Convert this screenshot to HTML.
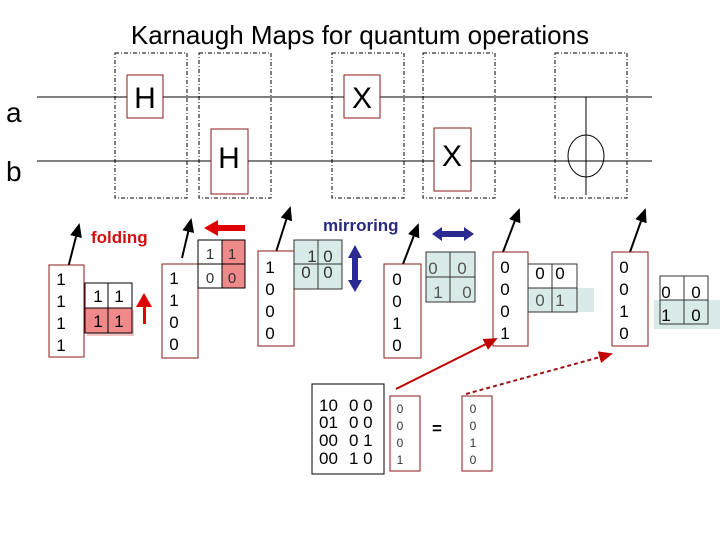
<!DOCTYPE html>
<html><head><style>
body{margin:0;width:720px;height:540px;background:#fff;overflow:hidden}
svg{font-family:"Liberation Sans",sans-serif}
</style></head><body>
<svg width="720" height="540" viewBox="0 0 720 540">
<defs>
<marker id="ab" markerWidth="8" markerHeight="8" refX="6" refY="4" orient="auto"><path d="M0,1 L7,4 L0,7z" fill="#000"/></marker>
<marker id="ar" markerWidth="8" markerHeight="8" refX="6" refY="4" orient="auto"><path d="M0,1 L7,4 L0,7z" fill="#c00000"/></marker>
</defs>
<text x="360" y="44" font-size="26" text-anchor="middle">Karnaugh Maps for quantum operations</text>
<text x="6" y="122" font-size="28">a</text>
<text x="6" y="181" font-size="28">b</text>
<g fill="none" stroke="#000" stroke-dasharray="4,2,1,2" stroke-width="1">
<rect x="115" y="53" width="72" height="145"/><rect x="199" y="53" width="72" height="145"/>
<rect x="332" y="53" width="72" height="145"/><rect x="423" y="53" width="72" height="145"/>
<rect x="555" y="53" width="72" height="145"/></g>
<line x1="37" y1="97" x2="652" y2="97" stroke="#000"/>
<line x1="37" y1="161" x2="652" y2="161" stroke="#000"/>
<g fill="#fff" stroke="#8b1a1a"><rect x="127" y="75" width="36" height="43"/><rect x="211" y="129" width="37" height="65"/>
<rect x="344" y="75" width="36" height="43"/><rect x="434" y="128" width="37" height="63"/></g>
<g font-size="30" text-anchor="middle"><text x="145" y="108">H</text><text x="229" y="168">H</text><text x="362" y="108">X</text><text x="452" y="166">X</text></g>
<line x1="586" y1="97" x2="586" y2="195" stroke="#000"/>
<ellipse cx="586" cy="156" rx="18" ry="21" fill="none" stroke="#000"/>
<line x1="567" y1="161" x2="605" y2="161" stroke="#000"/>
<g stroke="#000" stroke-width="2" marker-end="url(#ab)">
<line x1="68" y1="268" x2="79" y2="225"/><line x1="182" y1="258" x2="191" y2="220"/>
<line x1="276" y1="252" x2="290" y2="208"/><line x1="403" y1="264" x2="418" y2="225"/>
<line x1="503" y1="252" x2="519" y2="210"/><line x1="630" y1="252" x2="645" y2="210"/></g>
<text x="91" y="243" font-size="17" font-weight="bold" fill="#d01010">folding</text>
<text x="323" y="231" font-size="17" font-weight="bold" fill="#2a2a80">mirroring</text>
<!-- col1 -->
<g fill="#fff" stroke="#8b1a1a"><rect x="49" y="265" width="35" height="92"/><rect x="162" y="264" width="36" height="94"/>
<rect x="258" y="251" width="36" height="95"/><rect x="384" y="264" width="37" height="94"/>
<rect x="493" y="252" width="35" height="94"/><rect x="612" y="252" width="36" height="94"/></g>
<g font-size="17" text-anchor="middle">
<text x="61" y="285">1</text><text x="61" y="307">1</text><text x="61" y="329">1</text><text x="61" y="351">1</text>
<text x="174" y="284">1</text><text x="174" y="306">1</text><text x="174" y="328">0</text><text x="174" y="350">0</text>
<text x="270" y="273">1</text><text x="270" y="295">0</text><text x="270" y="317">0</text><text x="270" y="339">0</text>
<text x="397" y="285">0</text><text x="397" y="307">0</text><text x="397" y="329">1</text><text x="397" y="351">0</text>
<text x="505" y="273">0</text><text x="505" y="295">0</text><text x="505" y="317">0</text><text x="505" y="339">1</text>
<text x="624" y="273">0</text><text x="624" y="295">0</text><text x="624" y="317">1</text><text x="624" y="339">0</text></g>
<!-- kmap1 -->
<rect x="87" y="310" width="47" height="26" fill="#f4c4c4"/>
<rect x="85" y="308" width="47" height="25" fill="#f08a8a"/>
<g stroke="#000" fill="none"><rect x="85" y="283" width="47" height="50"/><line x1="85" y1="308" x2="132" y2="308"/><line x1="108" y1="283" x2="108" y2="333"/></g>
<g font-size="17" text-anchor="middle"><text x="98" y="302">1</text><text x="119" y="302">1</text><text x="98" y="327">1</text><text x="119" y="327">1</text></g>
<path d="M143,324 V307 H136 L144,293 L152,307 H146 V324z" fill="#e00000"/>
<!-- kmap2 -->
<rect x="222" y="240" width="23" height="48" fill="#f08a8a"/>
<g stroke="#000" fill="none"><rect x="198" y="240" width="47" height="48"/><line x1="198" y1="264" x2="245" y2="264"/><line x1="222" y1="240" x2="222" y2="288"/></g>
<g font-size="15" text-anchor="middle" fill="#333"><text x="210" y="259">1</text><text x="232" y="259">1</text><text x="210" y="283">0</text><text x="232" y="283">0</text></g>
<path d="M245,225 H218 V220 L204,228 L218,236 V231 H245z" fill="#e00000"/>
<!-- kmap3 -->
<rect x="294" y="240" width="48" height="49" fill="#d8ebe9"/>
<g stroke="#333" fill="none"><rect x="294" y="240" width="48" height="49"/><line x1="294" y1="264" x2="342" y2="264"/><line x1="318" y1="240" x2="318" y2="289"/></g>
<g font-size="17" text-anchor="middle" fill="#333"><text x="312" y="262">1</text><text x="328" y="262">0</text><text x="306" y="278">0</text><text x="328" y="278">0</text></g>
<path d="M355,245 L362,258 H358 V280 H362 L355,292 L348,280 H352 V258 H348z" fill="#2a2a90"/>
<!-- kmap4 -->
<rect x="426" y="252" width="49" height="50" fill="#d8ebe9"/>
<g stroke="#333" fill="none"><rect x="426" y="252" width="49" height="50"/><line x1="426" y1="277" x2="475" y2="277"/><line x1="450" y1="252" x2="450" y2="302"/></g>
<g font-size="17" text-anchor="middle" fill="#555"><text x="433" y="274">0</text><text x="462" y="274">0</text><text x="438" y="298">1</text><text x="467" y="298">0</text></g>
<path d="M432,234 L442,227 V231 H464 V227 L474,234 L464,241 V237 H442 V241z" fill="#2a2a90"/>
<!-- kmap5 -->
<rect x="528" y="288" width="66" height="24" fill="#d8ebe9"/>
<g stroke="#333" fill="none"><rect x="528" y="264" width="49" height="48"/><line x1="528" y1="288" x2="577" y2="288"/><line x1="552" y1="264" x2="552" y2="312"/></g>
<g font-size="17" text-anchor="middle"><text x="540" y="279">0</text><text x="560" y="279">0</text><text x="540" y="306" fill="#555">0</text><text x="560" y="306" fill="#555">1</text></g>
<!-- kmap6 -->
<rect x="654" y="300" width="66" height="29" fill="#d8ebe9"/>
<g stroke="#333" fill="none"><rect x="660" y="276" width="48" height="48"/><line x1="660" y1="300" x2="708" y2="300"/><line x1="684" y1="276" x2="684" y2="324"/></g>
<g font-size="17" text-anchor="middle"><text x="666" y="298">0</text><text x="696" y="298">0</text><text x="666" y="321">1</text><text x="696" y="321">0</text></g>
<!-- bottom -->
<rect x="312" y="384" width="72" height="90" fill="#fff" stroke="#000"/>
<g font-size="17" text-anchor="start"><text x="319" y="411">10</text><text x="319" y="428">01</text><text x="319" y="446">00</text><text x="319" y="464">00</text>
<text x="349" y="411">0 0</text><text x="349" y="428">0 0</text><text x="349" y="446">0 1</text><text x="349" y="464">1 0</text></g>
<g fill="#fff" stroke="#8b1a1a"><rect x="390" y="396" width="30" height="75"/><rect x="462" y="396" width="30" height="75"/></g>
<g font-size="12" text-anchor="middle" fill="#333"><text x="400" y="413">0</text><text x="400" y="430">0</text><text x="400" y="447">0</text><text x="400" y="464">1</text>
<text x="473" y="413">0</text><text x="473" y="430">0</text><text x="473" y="447">1</text><text x="473" y="464">0</text></g>
<text x="437" y="434" font-size="17" font-weight="bold" text-anchor="middle">=</text>
<line x1="396" y1="389" x2="496" y2="339" stroke="#c00000" stroke-width="2" marker-end="url(#ar)"/>
<line x1="466" y1="394" x2="611" y2="354" stroke="#a01010" stroke-width="2" stroke-dasharray="4,3" marker-end="url(#ar)"/>
</svg>
</body></html>
